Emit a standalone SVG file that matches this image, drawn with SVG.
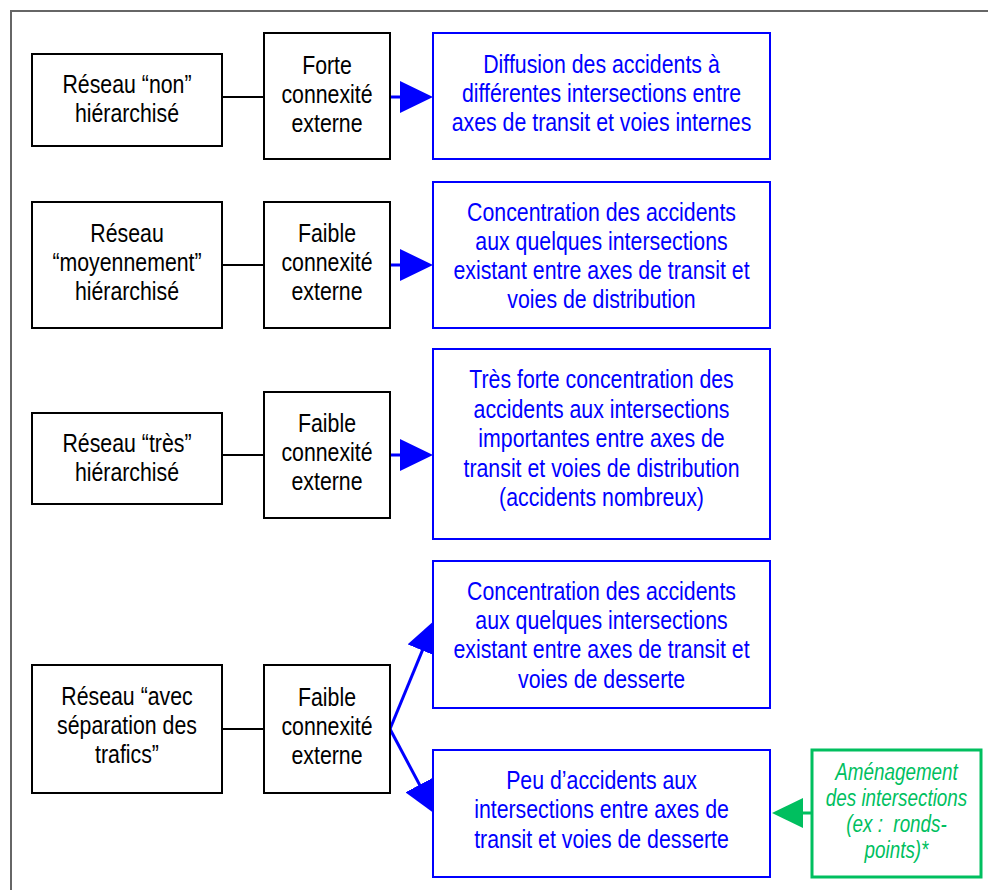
<svg xmlns="http://www.w3.org/2000/svg" width="988" height="890" viewBox="0 0 988 890">
<style>
.frame{stroke:#666;stroke-width:2;fill:none}
.bk{fill:#fff;stroke:#000;stroke-width:2}
.bl{fill:#fff;stroke:#0000FF;stroke-width:2}
.gr{fill:#fff;stroke:#00BF5F;stroke-width:3}
text{font-family:"Liberation Sans",Arial,sans-serif;font-size:26px;text-anchor:middle}
.tb{fill:#000}
.tu{fill:#0000FF}
.tg{fill:#00BF5F;font-style:italic;font-size:23px;white-space:pre}
.lk{stroke:#000;stroke-width:2}
.lu{stroke:#0000FF;stroke-width:3;fill:none}
.lg{stroke:#00BF5F;stroke-width:3}
</style>
<defs>
<marker id="ab" markerUnits="userSpaceOnUse" markerWidth="33" markerHeight="32" viewBox="0 0 33 32" refX="25" refY="16" orient="auto"><path d="M0,0 L33,16 L0,32 Z" fill="#0000FF"/></marker>
<marker id="ag" markerUnits="userSpaceOnUse" markerWidth="31" markerHeight="30" viewBox="0 0 31 30" refX="23" refY="15" orient="auto"><path d="M0,0 L31,15 L0,30 Z" fill="#00BF5F"/></marker>
</defs>
<rect width="988" height="890" fill="#fff"/>
<path class="frame" d="M11,890 V11 H988"/>
<g id="connectors">
<line class="lk" x1="222" y1="97" x2="264" y2="97"/>
<line class="lk" x1="222" y1="265" x2="264" y2="265"/>
<line class="lk" x1="222" y1="455" x2="264" y2="455"/>
<line class="lk" x1="222" y1="729" x2="264" y2="729"/>
<line class="lu" x1="390" y1="97" x2="425" y2="97" marker-end="url(#ab)"/>
<line class="lu" x1="390" y1="265" x2="425" y2="265" marker-end="url(#ab)"/>
<line class="lu" x1="390" y1="455" x2="425" y2="455" marker-end="url(#ab)"/>
<line class="lu" x1="390" y1="729" x2="431.9" y2="627.4" marker-end="url(#ab)"/>
<line class="lu" x1="390" y1="729" x2="431.3" y2="806.9" marker-end="url(#ab)"/>
<line class="lg" x1="812" y1="813" x2="780" y2="813" marker-end="url(#ag)"/>
</g>
<g id="n1a"><rect class="bk" x="32" y="54" width="190" height="92"/>
<g transform="translate(127 0) scale(0.82 1)"><text class="tb" x="0" y="93">Réseau “non”</text><text class="tb" x="0" y="122">hiérarchisé</text></g></g>
<g id="n1b"><rect class="bk" x="264" y="33" width="126" height="126"/>
<g transform="translate(327 0) scale(0.82 1)"><text class="tb" x="0" y="74">Forte</text><text class="tb" x="0" y="103">connexité</text><text class="tb" x="0" y="132">externe</text></g></g>
<g id="n1c"><rect class="bl" x="433" y="33" width="337" height="126"/>
<g transform="translate(601.5 0) scale(0.82 1)"><text class="tu" x="0" y="73">Diffusion des accidents à</text><text class="tu" x="0" y="102">différentes intersections entre</text><text class="tu" x="0" y="131">axes de transit et voies internes</text></g></g>

<g id="n2a"><rect class="bk" x="32" y="202" width="190" height="126"/>
<g transform="translate(127 0) scale(0.82 1)"><text class="tb" x="0" y="242">Réseau</text><text class="tb" x="0" y="271">“moyennement”</text><text class="tb" x="0" y="300">hiérarchisé</text></g></g>
<g id="n2b"><rect class="bk" x="264" y="202" width="126" height="126"/>
<g transform="translate(327 0) scale(0.82 1)"><text class="tb" x="0" y="242">Faible</text><text class="tb" x="0" y="271">connexité</text><text class="tb" x="0" y="300">externe</text></g></g>
<g id="n2c"><rect class="bl" x="433" y="182" width="337" height="146"/>
<g transform="translate(601.5 0) scale(0.82 1)"><text class="tu" x="0" y="221">Concentration des accidents</text><text class="tu" x="0" y="250">aux quelques intersections</text><text class="tu" x="0" y="279">existant entre axes de transit et</text><text class="tu" x="0" y="308">voies de distribution</text></g></g>

<g id="n3a"><rect class="bk" x="32" y="413" width="190" height="91"/>
<g transform="translate(127 0) scale(0.82 1)"><text class="tb" x="0" y="452">Réseau “très”</text><text class="tb" x="0" y="481">hiérarchisé</text></g></g>
<g id="n3b"><rect class="bk" x="264" y="392" width="126" height="126"/>
<g transform="translate(327 0) scale(0.82 1)"><text class="tb" x="0" y="432">Faible</text><text class="tb" x="0" y="461">connexité</text><text class="tb" x="0" y="490">externe</text></g></g>
<g id="n3c"><rect class="bl" x="433" y="349" width="337" height="190"/>
<g transform="translate(601.5 0) scale(0.82 1)"><text class="tu" x="0" y="388">Très forte concentration des</text><text class="tu" x="0" y="418">accidents aux intersections</text><text class="tu" x="0" y="447">importantes entre axes de</text><text class="tu" x="0" y="477">transit et voies de distribution</text><text class="tu" x="0" y="506">(accidents nombreux)</text></g></g>

<g id="n4a"><rect class="bk" x="32" y="665" width="190" height="128"/>
<g transform="translate(127 0) scale(0.82 1)"><text class="tb" x="0" y="705">Réseau “avec</text><text class="tb" x="0" y="734">séparation des</text><text class="tb" x="0" y="763">trafics”</text></g></g>
<g id="n4b"><rect class="bk" x="264" y="665" width="126" height="128"/>
<g transform="translate(327 0) scale(0.82 1)"><text class="tb" x="0" y="706">Faible</text><text class="tb" x="0" y="735">connexité</text><text class="tb" x="0" y="764">externe</text></g></g>
<g id="n4c"><rect class="bl" x="433" y="561" width="337" height="147"/>
<g transform="translate(601.5 0) scale(0.82 1)"><text class="tu" x="0" y="600">Concentration des accidents</text><text class="tu" x="0" y="629">aux quelques intersections</text><text class="tu" x="0" y="658">existant entre axes de transit et</text><text class="tu" x="0" y="688">voies de desserte</text></g></g>
<g id="n4d"><rect class="bl" x="433" y="750" width="337" height="127"/>
<g transform="translate(601.5 0) scale(0.82 1)"><text class="tu" x="0" y="789">Peu d’accidents aux</text><text class="tu" x="0" y="818">intersections entre axes de</text><text class="tu" x="0" y="848">transit et voies de desserte</text></g></g>
<g id="n5"><rect class="gr" x="812" y="750" width="169" height="127"/>
<g transform="translate(896.5 0) scale(0.82 1)"><text class="tg" x="0" y="780">Aménagement</text><text class="tg" x="0" y="806">des intersections</text><text class="tg" x="0" y="832">(ex :  ronds-</text><text class="tg" x="0" y="858">points)*</text></g></g>
</svg>
